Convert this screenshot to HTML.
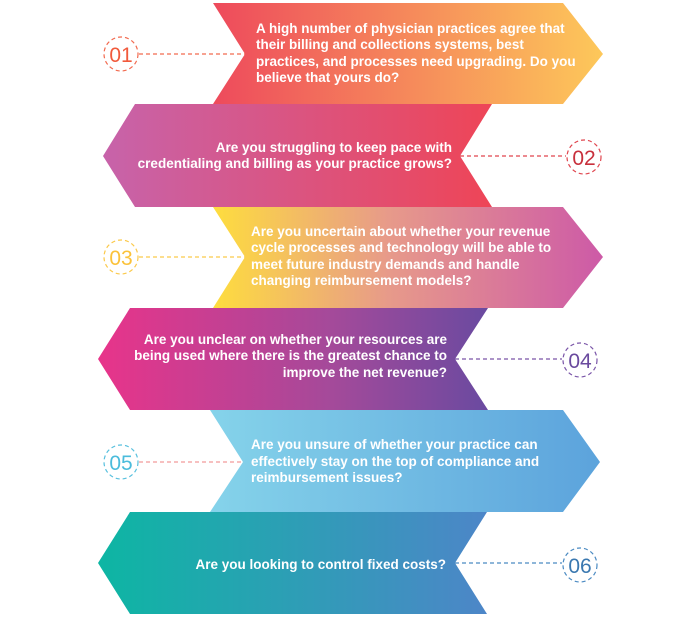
<!DOCTYPE html>
<html><head><meta charset="utf-8"><style>
html,body{margin:0;padding:0;background:#fff;}
svg{display:block}
text{font-family:"Liberation Sans",sans-serif;font-weight:bold;font-size:13.5px;fill:#fff}
.n{font-weight:normal;font-size:21px}
</style></head><body>
<svg width="700" height="617" viewBox="0 0 700 617" xmlns="http://www.w3.org/2000/svg">
<defs>
<linearGradient id="g1" x1="0" x2="1"><stop offset="0" stop-color="#ee4a5c"/><stop offset="1" stop-color="#fdc85a"/></linearGradient>
<linearGradient id="g2" x1="0" x2="1"><stop offset="0" stop-color="#c763aa"/><stop offset="1" stop-color="#ee4557"/></linearGradient>
<linearGradient id="g3" x1="0" x2="1"><stop offset="0" stop-color="#fedd3e"/><stop offset="0.45" stop-color="#e79a8a"/><stop offset="1" stop-color="#cd5aa7"/></linearGradient>
<linearGradient id="g4" x1="0" x2="1"><stop offset="0" stop-color="#e8348a"/><stop offset="0.6" stop-color="#a44a9a"/><stop offset="1" stop-color="#6a4aa0"/></linearGradient>
<linearGradient id="g5" x1="0" x2="1"><stop offset="0" stop-color="#85d3ea"/><stop offset="1" stop-color="#5ca3dc"/></linearGradient>
<linearGradient id="g6" x1="0" x2="1"><stop offset="0" stop-color="#0db6a3"/><stop offset="1" stop-color="#4d86c8"/></linearGradient>
</defs>
<polygon points="213,3 563,3 603,54 563,104 213,104 245,54" fill="url(#g1)"/>
<polygon points="135,104 492,104 460,156 492,207 135,207 103,156" fill="url(#g2)"/>
<polygon points="213,207 563,207 603,257 563,308 213,308 245,257" fill="url(#g3)"/>
<polygon points="130,308 488,308 455,359 488,410 130,410 98,359" fill="url(#g4)"/>
<polygon points="210,410 563,410 600,462 563,512 210,512 243,462" fill="url(#g5)"/>
<polygon points="130,512 487,512 455,563 487,614 130,614 98,563" fill="url(#g6)"/>

<g fill="none" stroke-dasharray="4,3" stroke-width="1.2">
<circle cx="121" cy="54" r="17" stroke="#f26a4f"/><line x1="139" y1="54" x2="245" y2="54" stroke="#f26a4f"/>
<circle cx="584" cy="157" r="17" stroke="#e0454e"/><line x1="460" y1="156" x2="566" y2="156" stroke="#e0454e"/>
<circle cx="121" cy="257" r="17" stroke="#fbc94a"/><line x1="139" y1="257" x2="245" y2="257" stroke="#fbc94a"/>
<circle cx="580" cy="360" r="17" stroke="#7a55a8"/><line x1="455" y1="359" x2="562" y2="359" stroke="#7a55a8"/>
<circle cx="121" cy="462" r="17" stroke="#58c0de"/><line x1="139" y1="462" x2="243" y2="462" stroke="#f29a9a"/>
<circle cx="580" cy="565" r="17" stroke="#4a8ac2"/><line x1="455" y1="563" x2="562" y2="563" stroke="#4a8ac2"/>
</g>
<text class="n" x="121" y="62" text-anchor="middle" style="fill:#f15a3c">01</text>
<text class="n" x="584" y="165" text-anchor="middle" style="fill:#c8303c">02</text>
<text class="n" x="121" y="265" text-anchor="middle" style="fill:#fbc23a">03</text>
<text class="n" x="580" y="368" text-anchor="middle" style="fill:#6a4a9e">04</text>
<text class="n" x="121" y="470" text-anchor="middle" style="fill:#4bbcdc">05</text>
<text class="n" x="580" y="573" text-anchor="middle" style="fill:#3a78b0">06</text>

<text x="256" y="33">A high number of physician practices agree that</text>
<text x="256" y="49">their billing and collections systems, best</text>
<text x="256" y="66">practices, and processes need upgrading. Do you</text>
<text x="256" y="82">believe that yours do?</text>

<text x="452" y="152" text-anchor="end">Are you struggling to keep pace with</text>
<text x="452" y="168" text-anchor="end">credentialing and billing as your practice grows?</text>

<text x="251" y="236">Are you uncertain about whether your revenue</text>
<text x="251" y="252">cycle processes and technology will be able to</text>
<text x="251" y="269">meet future industry demands and handle</text>
<text x="251" y="285">changing reimbursement models?</text>

<text x="447" y="344" text-anchor="end">Are you unclear on whether your resources are</text>
<text x="447" y="360" text-anchor="end">being used where there is the greatest chance to</text>
<text x="447" y="377" text-anchor="end">improve the net revenue?</text>

<text x="251" y="449">Are you unsure of whether your practice can</text>
<text x="251" y="466">effectively stay on the top of compliance and</text>
<text x="251" y="482">reimbursement issues?</text>

<text x="446" y="569" text-anchor="end">Are you looking to control fixed costs?</text>
</svg>
</body></html>
